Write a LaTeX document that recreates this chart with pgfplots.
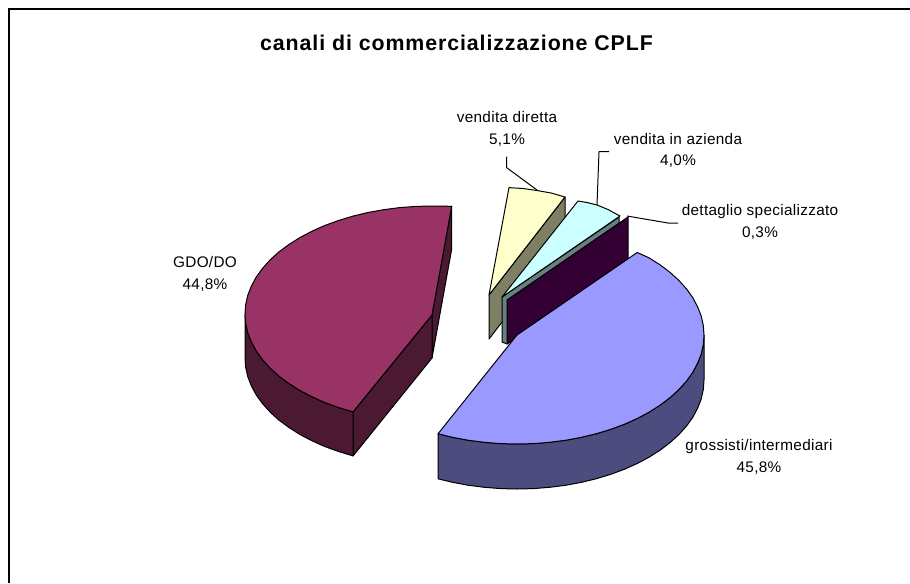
\documentclass[border=0pt]{standalone}
\usepackage{pgfplots}
\pgfplotsset{compat=1.18}
\usepackage{fontspec}
\setmainfont{Liberation Sans}
\definecolor{mar}{HTML}{993366}\definecolor{marS}{HTML}{4C1933}
\definecolor{blu}{HTML}{9999FF}\definecolor{bluS}{HTML}{4C4C7F}
\definecolor{yel}{HTML}{FFFFCC}\definecolor{yelS}{HTML}{7F7F66}
\definecolor{cya}{HTML}{CCFFFF}\definecolor{cyaS}{HTML}{667F7F}
\definecolor{purS}{HTML}{330033}
\newfontfamily\lblfont[LetterSpace=2]{Liberation Sans}
\tikzset{lbl/.style={font=\lblfont\fontsize{11.5pt}{16pt}\selectfont, align=center, text=black, inner sep=0pt}}
\begin{document}
\begin{tikzpicture}
\begin{axis}[
  scale only axis, width=682.5pt, height=437.25pt,
  xmin=0, xmax=910, ymin=0, ymax=583, y dir=reverse,
  hide axis, clip=true,
  every axis plot/.append style={line width=0.75pt, line join=round, black, mark=none}
]
\path (axis cs:0,0) rectangle (axis cs:910,583);
% frame
\addplot[line width=1.5pt, line join=miter] coordinates {(9,583) (9,9) (910,9)};
% leaders
\addplot[line width=0.75pt] coordinates {(506.7,156.7) (506.7,167.7) (537,190)};
\addplot[line width=0.75pt] coordinates {(609,151.7) (599,151.7) (597,205)};
\addplot[line width=0.75pt] coordinates {(678,223) (668,223) (627,216)};
% GDO/DO
\addplot[fill=marS] coordinates {(432,315) (451.7,206) (451.7,249) (432,358)} -- cycle;
\addplot[fill=marS] coordinates {(353,412) (432,315) (432,358) (353,456)} -- cycle;
\addplot[fill=marS] coordinates {(245,314) (245.7,323.4) (247.8,332.8) (251.4,342) (256.3,351) (262.5,359.6) (270,368) (278.8,376) (288.8,383.4) (299.8,390.4) (311.8,396.7) (324.7,402.5) (338.5,407.5) (353,411.9)
  (353,455.9) (338.5,451.5) (324.7,446.5) (311.8,440.7) (299.8,434.4) (288.8,427.4) (278.8,420) (270,412) (262.5,403.6) (256.3,395) (251.4,386) (247.8,376.8) (245.7,367.4) (245,358)} -- cycle;
\addplot[fill=mar] coordinates {(432,315) (451.7,206.3) (432,206) (415.7,206.4) (399.5,207.6) (383.6,209.7) (368,212.5) (353,216.1) (338.5,220.5) (324.7,225.5) (311.8,231.3) (299.8,237.6) (288.8,244.6) (278.8,252)
  (270,260) (262.5,268.4) (256.3,277) (251.4,286) (247.8,295.2) (245.7,304.6) (245,314) (245.7,323.4) (247.8,332.8) (251.4,342) (256.3,351) (262.5,359.6) (270,368) (278.8,376) (288.8,383.4) (299.8,390.4) (311.8,396.7) (324.7,402.5) (338.5,407.5) (353,411.9)} -- cycle;
% vendita diretta
\addplot[fill=yelS] coordinates {(489,295) (565,197) (565,240) (489,339)} -- cycle;
\addplot[fill=yel] coordinates {(489,295) (509,187.6) (523,188.5) (537,190.5) (551,193) (565,197)} -- cycle;
% dettaglio / azienda sides
\addplot[fill=cyaS] coordinates {(502,297) (619,217) (619,262) (507,344) (502,342)} -- cycle;
\addplot[fill=cya] coordinates {(502,297) (578,201) (587,202.5) (597,205) (608,209.5) (620,216)} -- cycle;
\addplot[fill=purS] coordinates {(507,300) (628,217) (628,262) (507,344)} -- cycle;
% grossisti
\addplot[fill=bluS] coordinates {(704,335) (703.3,344.5) (701.2,354) (697.6,363.2) (692.8,372.3) (686.5,381.1) (678.9,389.5) (670.2,397.5) (660.2,405.1) (649.2,412.1) (637.2,418.5) (624.3,424.3) (610.5,429.4) (596,433.8) (581,437.4) (565.4,440.3) (549.5,442.3) (533.3,443.6) (517,444) (500.7,443.6) (484.5,442.3) (468.6,440.3) (453,437.4) (438,433.8)
  (438,478.8) (453,482.4) (468.6,485.3) (484.5,487.3) (500.7,488.6) (517,489) (533.3,488.6) (549.5,487.3) (565.4,485.3) (581,482.4) (596,478.8) (610.5,474.4) (624.3,469.3) (637.2,463.5) (649.2,457.1) (660.2,450.1) (670.2,442.5) (678.9,434.5) (686.5,426.1) (692.8,417.3) (697.6,408.2) (701.2,399) (703.3,389.5) (704,380)} -- cycle;
\addplot[fill=blu] coordinates {(517,335) (637.2,252.5) (649.2,257.9) (660.2,264.9) (670.2,272.5) (678.9,280.5) (686.5,288.9) (692.8,297.7) (697.6,306.8) (701.2,316) (703.3,325.5) (704,335) (703.3,344.5) (701.2,354) (697.6,363.2) (692.8,372.3) (686.5,381.1) (678.9,389.5) (670.2,397.5) (660.2,405.1) (649.2,412.1) (637.2,418.5) (624.3,424.3) (610.5,429.4) (596,433.8) (581,437.4) (565.4,440.3) (549.5,442.3) (533.3,443.6) (517,444) (500.7,443.6) (484.5,442.3) (468.6,440.3) (453,437.4) (438,433.8)} -- cycle;
% text
\node[font=\bfseries\addfontfeatures{LetterSpace=4.3}\fontsize{16pt}{18pt}\selectfont, inner sep=0pt] at (axis cs:456.5,43) {canali di commercializzazione CPLF};
\node[lbl] at (axis cs:507,129) {vendita diretta\\5,1\%};
\node[lbl] at (axis cs:678,150.5) {vendita in azienda\\4,0\%};
\node[lbl] at (axis cs:760,222) {dettaglio specializzato\\0,3\%};
\node[lbl] at (axis cs:205,274) {GDO/DO\\44,8\%};
\node[lbl] at (axis cs:759,457) {grossisti/intermediari\\45,8\%};
\end{axis}
\end{tikzpicture}
\end{document}
